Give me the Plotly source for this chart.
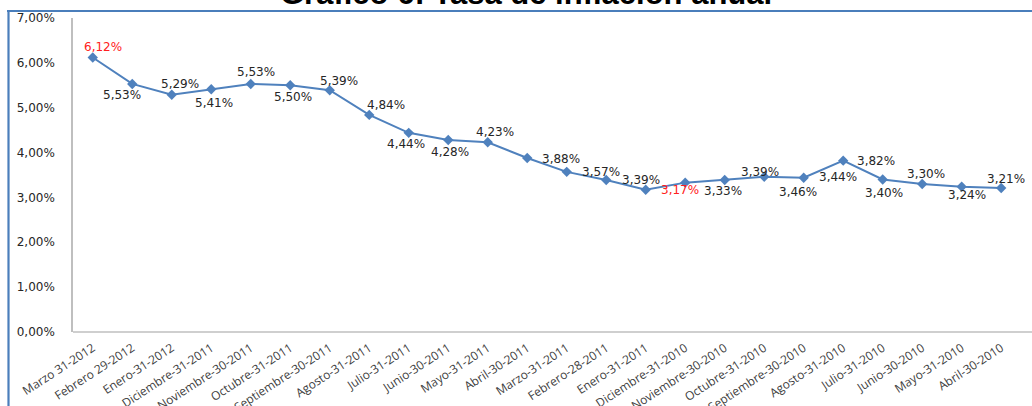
import plotly.graph_objects as go

categories = [
    "Marzo 31-2012", "Febrero 29-2012", "Enero-31-2012", "Diciembre-31-2011",
    "Noviembre-30-2011", "Octubre-31-2011", "Septiembre-30-2011", "Agosto-31-2011",
    "Julio-31-2011", "Junio-30-2011", "Mayo-31-2011", "Abril-30-2011",
    "Marzo-31-2011", "Febrero-28-2011", "Enero-31-2011", "Diciembre-31-2010",
    "Noviembre-30-2010", "Octubre-31-2010", "Septiembre-30-2010", "Agosto-31-2010",
    "Julio-31-2010", "Junio-30-2010", "Mayo-31-2010", "Abril-30-2010",
]
inflacion = [
    6.12, 5.53, 5.29, 5.41, 5.53, 5.50, 5.39, 4.84, 4.44, 4.28, 4.23, 3.88,
    3.57, 3.39, 3.17, 3.33, 3.39, 3.46, 3.44, 3.82, 3.40, 3.30, 3.24, 3.21,
]
y_ticks = [0, 1, 2, 3, 4, 5, 6, 7]
y_tick_labels = ["0,00%", "1,00%", "2,00%", "3,00%", "4,00%", "5,00%", "6,00%", "7,00%"]
title_text = "Gráfico 6: Tasa de inflación anual"

# label styling (offsets in px relative to the point: dx right, dy up)
label_offsets = [
    (10, 10), (-10, -11), (8, 11), (3, -14), (5, 12), (3, -12), (9, 9), (17, 10),
    (-3, -11), (2, -12), (7, 10), (34, -1), (34, 0), (35, 0), (34, 0), (38, -8),
    (35, 8), (34, -15), (34, 1), (33, 0), (1, -14), (4, 10), (5, -8), (5, 9),
]
highlight = {0, 14}

W, H = 1032, 406
L, T, R = 73, 18, 0
B = H - 332
pw, ph = W - L - R, H - T - B

def px_x(p):  # page pixel -> paper x
    return (p - L) / pw

def px_y(p):  # page pixel -> paper y
    return (H - B - p) / ph

line_color = "#4F81BD"

fig = go.Figure()
fig.add_trace(go.Scatter(
    x=categories, y=inflacion, mode="lines+markers",
    line=dict(color=line_color, width=2),
    marker=dict(symbol="diamond", size=8, color=line_color),
    showlegend=False, hoverinfo="skip",
))

annotations = []
for i, (c, v) in enumerate(zip(categories, inflacion)):
    dx, dy = label_offsets[i]
    annotations.append(dict(
        x=c, y=v, xref="x", yref="y",
        text=f"{v:.2f}%".replace(".", ","),
        showarrow=False, xanchor="center", yanchor="middle",
        xshift=dx, yshift=dy,
        font=dict(family="DejaVu Sans", size=12,
                  color="#ff2020" if i in highlight else "#262626"),
    ))

annotations.append(dict(
    x=px_x(526), y=1, xref="paper", yref="paper",
    text=f"<b>{title_text}</b>", showarrow=False,
    xanchor="center", yanchor="bottom", yshift=5,
    font=dict(family="Liberation Sans", size=31, color="#000000"),
))

shapes = [
    dict(type="line", xref="paper", yref="paper",
         x0=px_x(7), x1=px_x(1040), y0=px_y(11), y1=px_y(11),
         line=dict(color="#4a7ebb", width=2.2)),
    dict(type="line", xref="paper", yref="paper",
         x0=px_x(8.5), x1=px_x(8.5), y0=px_y(10), y1=px_y(420),
         line=dict(color="#4a7ebb", width=2.2)),
    dict(type="line", xref="paper", yref="paper",
         x0=0, x1=px_x(1040), y0=0, y1=0,
         line=dict(color="#bfbfbf", width=1.5)),
]

fig.update_layout(
    width=W, height=H,
    margin=dict(l=L, r=R, t=T, b=B, autoexpand=False),
    paper_bgcolor="white", plot_bgcolor="white",
    annotations=annotations, shapes=shapes,
    xaxis=dict(
        type="category", range=[-0.5, 23.78], automargin=False,
        showline=False, showgrid=False, zeroline=False,
        ticks="", tickangle=-33,
        tickfont=dict(family="Open Sans", size=12, color="#404040"),
        ticklabelstandoff=6,
    ),
    yaxis=dict(
        range=[0, 7], tickvals=y_ticks, ticktext=y_tick_labels, automargin=False,
        showline=True, linecolor="#bfbfbf", linewidth=1.5,
        showgrid=False, zeroline=False, ticks="",
        tickfont=dict(family="DejaVu Sans", size=12, color="#262626"),
        ticklabelstandoff=14,
    ),
)

fig.write_html(
    "out.html",
    config={"displayModeBar": False},
    post_script="document.body.style.margin='0';document.body.style.overflow='hidden';",
)
